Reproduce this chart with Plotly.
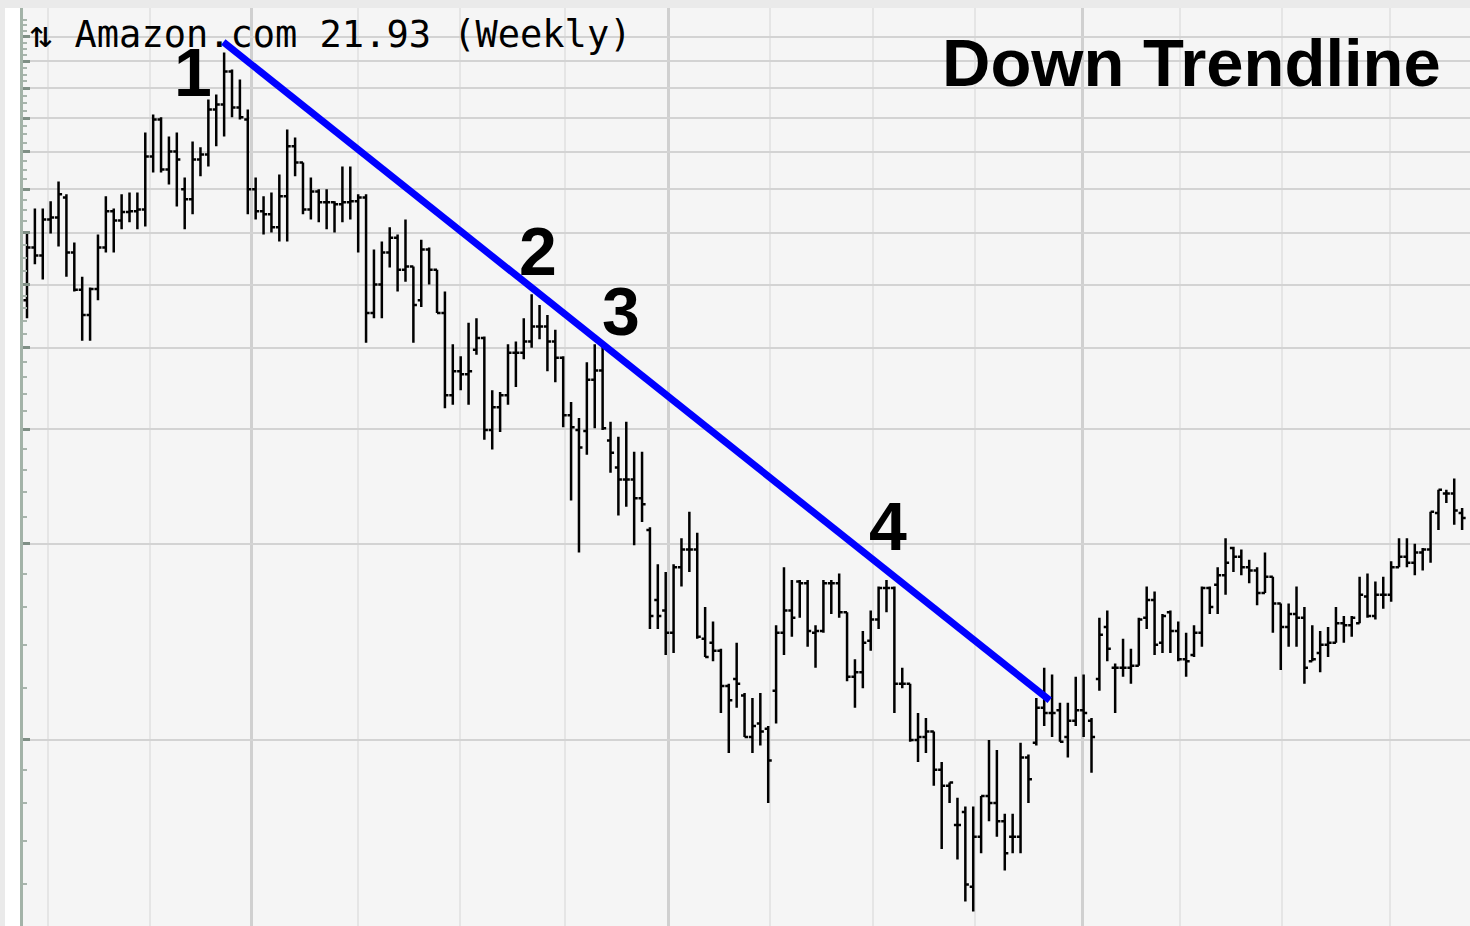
import plotly.graph_objects as go

# ---- weekly OHLC values for Amazon.com (log price scale) ----
OPEN = [47.3, 57.0, 55.4, 62.9, 63.4, 68.0, 56.0, 49.1, 44.9, 49.2,
        57.0, 64.8, 62.7, 64.6, 64.8, 65.2, 78.6, 89.6, 75.1, 80.0,
        70.0, 67.6, 77.8, 79.2, 92.8, 94.5, 106.2, 93.5, 89.6, 70.0,
        64.8, 64.1, 61.2, 68.3, 81.5, 77.0, 65.2, 69.5, 66.9, 66.9,
        66.4, 66.9, 67.1, 68.0, 45.2, 50.0, 56.0, 59.0, 52.7, 53.3,
        47.3, 56.6, 52.7, 45.2, 33.8, 36.8, 36.4, 39.7, 41.4, 29.9,
        32.4, 33.8, 39.3, 39.3, 40.9, 43.1, 43.1, 40.9, 38.6, 31.5,
        29.9, 29.8, 35.7, 36.9, 28.8, 26.2, 25.1, 25.1, 23.5, 21.0,
        16.4, 15.8, 14.6, 18.4, 19.6, 19.6, 14.3, 14.1, 13.7, 12.1,
        12.4, 11.7, 10.1, 10.6, 10.4, 11.9, 14.6, 15.8, 17.5, 17.4,
        14.6, 14.7, 17.4, 17.4, 15.7, 12.5, 12.7, 14.2, 15.3, 17.1,
        17.1, 12.2, 12.2, 10.0, 10.1, 10.3, 9.0, 8.5, 7.4, 7.75,
        5.95, 7.1, 8.2, 8.0, 7.5, 7.1, 7.1, 9.4, 9.9, 11.2,
        11.0, 11.1, 10.1, 10.7, 11.1, 10.7, 12.4, 14.9, 12.9, 12.9,
        12.9, 13.0, 15.4, 16.4, 14.1, 15.7, 14.7, 13.3, 13.5, 14.6,
        17.1, 17.3, 17.9, 19.7, 19.1, 18.4, 18.2, 16.8, 17.8, 16.2,
        14.9, 15.6, 15.4, 13.2, 13.6, 14.0, 14.1, 15.1, 15.0, 15.1,
        16.6, 15.5, 16.7, 16.7, 18.4, 19.1, 18.7, 19.4, 19.6, 22.3,
        23.9, 23.9, 22.3]
HIGH = [60.3, 65.4, 65.4, 67.1, 72.0, 68.8, 58.0, 51.4, 49.5, 59.7,
        68.3, 65.4, 68.8, 69.2, 69.2, 85.6, 91.2, 90.3, 84.4, 85.6,
        73.0, 82.9, 81.2, 96.2, 97.9, 113.6, 106.9, 103.2, 92.8, 73.0,
        68.3, 69.2, 73.8, 86.5, 84.1, 77.0, 73.0, 70.0, 70.0, 67.1,
        75.9, 75.9, 68.8, 68.8, 56.6, 58.2, 61.2, 59.7, 62.9, 53.3,
        58.6, 57.0, 52.7, 48.8, 40.5, 38.8, 43.7, 44.4, 41.6, 34.4,
        34.2, 40.5, 40.9, 44.4, 48.3, 46.5, 44.9, 42.6, 38.8, 33.0,
        31.2, 38.0, 40.5, 40.5, 30.8, 29.2, 30.8, 27.7, 27.7, 21.2,
        18.6, 18.1, 18.6, 20.4, 22.4, 20.8, 16.0, 15.2, 13.8, 12.2,
        14.1, 11.8, 11.6, 11.8, 10.5, 15.0, 18.4, 17.6, 17.6, 17.6,
        15.0, 17.6, 17.6, 18.0, 15.7, 13.3, 14.7, 15.8, 17.2, 17.6,
        17.2, 12.9, 12.2, 11.0, 10.8, 10.3, 9.25, 8.6, 8.15, 7.9,
        7.9, 8.2, 10.0, 9.65, 7.7, 7.7, 9.9, 9.5, 11.6, 12.9,
        12.6, 11.4, 11.4, 12.5, 12.6, 10.8, 15.4, 15.8, 13.1, 14.3,
        13.8, 15.4, 17.2, 16.9, 15.6, 15.8, 15.2, 14.6, 15.0, 17.2,
        17.2, 18.4, 20.4, 19.8, 19.6, 18.9, 18.4, 19.4, 17.8, 16.2,
        16.2, 17.2, 16.0, 15.0, 14.7, 14.9, 16.0, 15.5, 15.5, 17.8,
        18.0, 17.5, 17.8, 18.8, 20.4, 20.4, 20.0, 19.7, 22.4, 24.2,
        24.2, 25.2, 22.7]
LOW = [44.4, 53.7, 50.9, 59.9, 57.2, 51.4, 48.8, 41.0, 41.0, 47.3,
       56.0, 56.0, 60.8, 62.3, 60.8, 61.4, 74.3, 74.3, 71.2, 65.9,
       60.8, 64.1, 73.3, 75.9, 81.5, 84.4, 90.3, 89.6, 64.1, 62.9,
       59.7, 60.1, 58.2, 58.2, 73.3, 64.1, 62.9, 62.3, 60.8, 60.1,
       62.3, 62.9, 56.0, 40.7, 44.4, 44.4, 53.1, 48.8, 50.5, 40.7,
       46.2, 50.0, 45.2, 32.3, 32.7, 34.4, 32.7, 39.0, 28.9, 27.9,
       29.7, 32.7, 34.8, 38.4, 40.0, 41.2, 36.8, 35.4, 30.2, 23.3,
       19.4, 27.4, 30.1, 29.9, 25.7, 22.1, 22.8, 19.9, 21.6, 14.8,
       14.8, 13.5, 13.6, 17.2, 18.1, 14.3, 13.4, 13.2, 11.0, 9.55,
       11.2, 10.1, 9.55, 9.8, 8.0, 10.6, 13.5, 14.4, 15.4, 13.9,
       12.9, 14.6, 15.6, 15.4, 12.3, 11.2, 12.0, 13.7, 14.8, 15.7,
       11.0, 12.0, 9.93, 9.25, 9.55, 8.5, 6.8, 8.0, 6.55, 5.65,
       5.45, 6.7, 7.5, 7.1, 6.3, 6.7, 6.7, 8.0, 9.8, 10.5,
       10.1, 9.93, 9.4, 10.5, 10.1, 8.9, 11.9, 13.2, 11.0, 12.5,
       12.2, 13.0, 14.8, 13.5, 13.6, 13.6, 13.2, 12.5, 13.4, 13.9,
       15.6, 15.6, 16.7, 18.1, 17.9, 17.4, 16.1, 16.8, 14.6, 12.8,
       13.9, 13.9, 12.2, 13.2, 12.7, 13.4, 14.1, 14.1, 14.4, 15.1,
       15.4, 15.3, 15.9, 16.3, 18.4, 18.4, 17.9, 18.2, 18.7, 21.0,
       23.1, 21.4, 21.0]
CLOSE = [57.0, 55.4, 62.9, 63.4, 68.8, 56.0, 49.1, 44.9, 49.2, 57.0,
         64.8, 62.7, 64.6, 64.8, 65.2, 78.6, 89.6, 75.1, 80.0, 77.8,
         67.6, 77.8, 79.2, 92.8, 94.5, 106.2, 93.5, 90.3, 70.0, 64.8,
         64.1, 61.2, 68.3, 81.5, 77.0, 65.2, 69.5, 66.9, 66.9, 66.4,
         66.9, 67.1, 68.0, 45.2, 50.0, 56.0, 59.0, 52.7, 53.3, 46.5,
         56.6, 52.7, 45.2, 33.8, 36.8, 36.4, 36.8, 41.4, 29.9, 32.4,
         33.8, 39.3, 39.3, 40.9, 43.1, 43.1, 40.9, 38.6, 31.5, 30.2,
         28.1, 35.7, 36.9, 30.1, 27.6, 25.1, 25.1, 23.5, 23.0, 15.5,
         15.5, 14.6, 18.4, 19.6, 19.6, 14.4, 13.4, 13.7, 12.1, 11.5,
         12.2, 10.1, 10.5, 10.3, 9.3, 14.6, 15.8, 15.4, 17.4, 14.7,
         14.7, 17.4, 17.4, 15.7, 12.5, 12.7, 14.1, 15.3, 17.1, 17.1,
         12.2, 12.2, 10.0, 10.1, 10.3, 9.0, 8.5, 8.6, 7.4, 6.0,
         7.1, 8.2, 8.0, 7.5, 6.7, 7.1, 9.4, 8.7, 11.2, 11.0,
         11.0, 9.93, 10.7, 11.1, 11.0, 10.1, 14.5, 13.8, 12.9, 12.9,
         13.0, 15.3, 16.4, 14.0, 15.5, 14.7, 13.3, 13.2, 14.6, 17.1,
         16.0, 17.9, 18.7, 19.1, 18.4, 18.2, 16.8, 17.8, 16.2, 14.9,
         15.6, 15.4, 12.9, 13.3, 14.0, 14.1, 15.1, 15.0, 15.4, 16.7,
         15.5, 16.7, 16.7, 18.4, 19.1, 18.7, 19.4, 19.6, 22.4, 24.2,
         23.9, 22.5, 21.9]
WEEK = list(range(len(CLOSE)))

# down trendline anchor points (week index, price)
TREND_WEEK = [24.9, 129.7]
TREND_PRICE = [117.8, 11.5]

# price gridlines and axis tick marks
PRICE_GRID = [10, 20, 30, 40, 50, 60, 70, 80, 90, 100, 110, 120]
PRICE_MINOR = [6, 7, 8, 9, 12, 14, 16, 18, 22, 24, 26, 28, 32, 34, 36, 38,
               42, 44, 46, 48, 52.5, 55, 57.5, 62.5, 65, 67.5, 72.5, 75, 77.5,
               82.5, 85, 87.5, 92.5, 95, 97.5, 102.5, 105, 107.5, 112.5, 115,
               117.5, 122.5, 125, 127.5]
# week positions of year starts and quarter starts
YEAR_LINES = [28.5, 81.3, 133.9]
QUARTER_LINES = [2.66, 15.6, 42.0, 54.9, 68.2, 94.2, 107.3, 120.2, 146.2, 159.2, 172.9]

TITLE = "⇅ Amazon.com 21.93 (Weekly)"
HEADLINE = "Down Trendline"
POINT_LABELS = ["1", "2", "3", "4"]

W, H = 1470, 926
ML, MT = 23, 8
PW, PH = W - ML, H - MT


def px(xp):
    return (xp - ML) / PW


def py(yp):
    return 1 - (yp - MT) / PH


fig = go.Figure()
fig.add_trace(go.Ohlc(
    x=WEEK, open=OPEN, high=HIGH, low=LOW, close=CLOSE,
    increasing=dict(line=dict(color="#000000", width=2.5)),
    decreasing=dict(line=dict(color="#000000", width=2.5)),
    tickwidth=0.45, hoverinfo="skip", showlegend=False,
))
fig.add_trace(go.Scatter(
    x=TREND_WEEK, y=TREND_PRICE, mode="lines",
    line=dict(color="#0000ff", width=7), hoverinfo="skip", showlegend=False,
))

label_pos = [(193, 72), (538, 251), (621, 311), (888, 526)]
annotations = []
for lab, (lx, ly) in zip(POINT_LABELS, label_pos):
    annotations.append(dict(
        text="<b>%s</b>" % lab, x=px(lx), y=py(ly), xref="paper", yref="paper",
        xanchor="center", yanchor="middle", showarrow=False,
        font=dict(family="Liberation Sans", size=68, color="#000000"),
    ))
annotations.append(dict(
    text="<b>%s</b>" % HEADLINE, x=px(1191), y=py(62), xref="paper", yref="paper",
    xanchor="center", yanchor="middle", showarrow=False,
    font=dict(family="Liberation Sans", size=67, color="#000000"),
))
annotations.append(dict(
    text=TITLE, x=px(28), y=py(34), xref="paper", yref="paper",
    xanchor="left", yanchor="middle", showarrow=False,
    font=dict(family="DejaVu Sans Mono", size=37, color="#000000"),
))

fig.update_layout(
    width=W, height=H,
    margin=dict(l=ML, r=0, t=MT, b=0, pad=0),
    paper_bgcolor="#eaeaea",
    plot_bgcolor="#f5f5f5",
    showlegend=False,
    annotations=annotations,
    shapes=[dict(type="rect", xref="paper", yref="paper",
                 x0=px(5), x1=0, y0=0, y1=1,
                 fillcolor="#ffffff", line=dict(width=0), layer="below")],
    xaxis=dict(
        range=[-0.507, 183.0], rangeslider=dict(visible=False),
        showticklabels=False, ticks="", showline=False, zeroline=False,
        tickmode="array", tickvals=YEAR_LINES,
        showgrid=True, gridcolor="#d0d0d0", gridwidth=3,
        minor=dict(tickmode="array", tickvals=QUARTER_LINES, showgrid=True,
                   gridcolor="#e5e5e5", gridwidth=2, ticks=""),
    ),
    yaxis=dict(
        type="log", range=[0.7143, 2.1235],
        showticklabels=False, tickmode="array", tickvals=PRICE_GRID,
        showgrid=True, gridcolor="#d3d3d3", gridwidth=2,
        ticks="inside", ticklen=7, tickwidth=3, tickcolor="#7f8f85",
        showline=True, linecolor="#a3b3a8", linewidth=3,
        minor=dict(tickmode="array", tickvals=PRICE_MINOR, ticks="inside",
                   ticklen=4, tickwidth=2, tickcolor="#a8b4ac", showgrid=False),
        zeroline=False,
    ),
)

fig.write_html(
    "out.html",
    config={"displayModeBar": False},
    post_script="document.body.style.margin='0';document.body.style.overflow='hidden';",
)
